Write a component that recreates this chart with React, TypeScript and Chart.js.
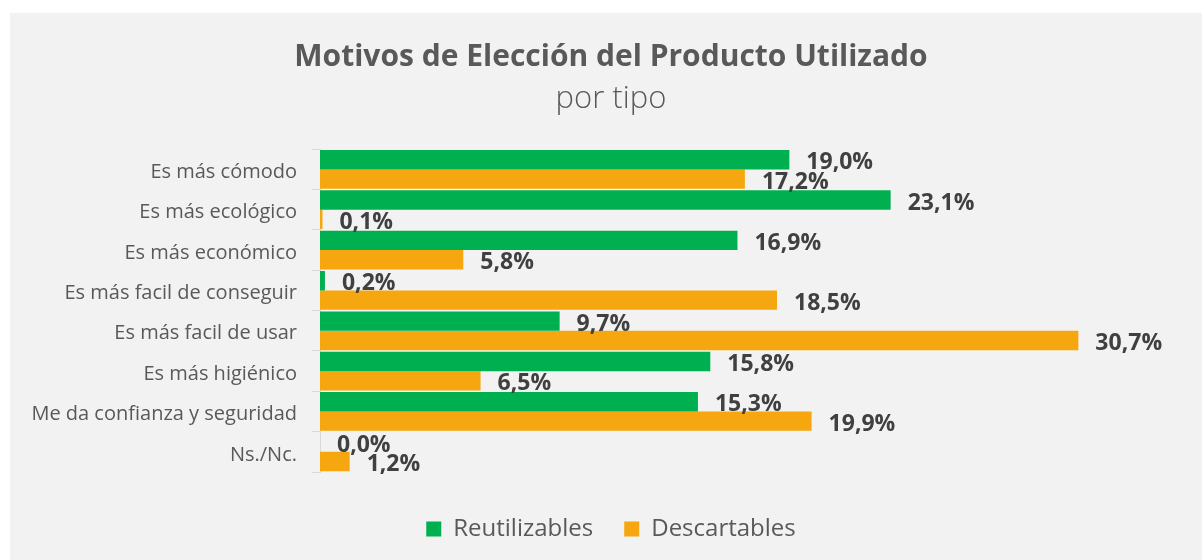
import React, { useEffect, useRef } from "react";
import { Chart, registerables } from "chart.js";

Chart.register(...registerables);

const categories = [
  "Es más cómodo",
  "Es más ecológico",
  "Es más económico",
  "Es más facil de conseguir",
  "Es más facil de usar",
  "Es más higiénico",
  "Me da confianza y seguridad",
  "Ns./Nc.",
];
const reutilizables = [19.0, 23.1, 16.9, 0.2, 9.7, 15.8, 15.3, 0.0];
const descartables = [17.2, 0.1, 5.8, 18.5, 30.7, 6.5, 19.9, 1.2];
const seriesNames = ["Reutilizables", "Descartables"];
const titleText = "Motivos de Elección del Producto Utilizado";
const subtitleText = "por tipo";

const FONT = "'Open Sans', 'DejaVu Sans', sans-serif";

const valueLabels = {
  id: "valueLabels",
  afterDatasetsDraw(chart: any) {
    const ctx = chart.ctx;
    ctx.save();
    ctx.font = `bold 23px ${FONT}`;
    ctx.fillStyle = "#404040";
    ctx.textAlign = "left";
    ctx.textBaseline = "middle";
    chart.data.datasets.forEach((ds: any, i: number) => {
      const meta = chart.getDatasetMeta(i);
      meta.data.forEach((bar: any, j: number) => {
        const v = ds.data[j] as number;
        const { x, y } = bar.getProps(["x", "y"], true);
        ctx.fillText(v.toFixed(1).replace(".", ",") + "%", x + 17, y + 3);
      });
    });
    ctx.restore();
  },
};

export default function App() {
  const ref = useRef<HTMLCanvasElement>(null);
  useEffect(() => {
    if (!ref.current) return;
    const chart = new Chart(ref.current, {
      type: "bar",
      data: {
        labels: categories,
        datasets: [
          {
            label: seriesNames[0],
            data: reutilizables,
            backgroundColor: "#00B050",
            categoryPercentage: 0.96,
            barPercentage: 1.0,
          },
          {
            label: seriesNames[1],
            data: descartables,
            backgroundColor: "#F6A60E",
            categoryPercentage: 0.96,
            barPercentage: 1.0,
          },
        ],
      },
      options: {
        indexAxis: "y",
        responsive: false,
        animation: false,
        layout: { padding: { left: 20, right: 10, top: 0, bottom: 9 } },
        scales: {
          x: {
            min: 0,
            max: 35.3,
            display: true,
            grid: { display: false },
            ticks: { display: false },
            border: { display: false },
            afterFit: (s: any) => {
              s.height = 14;
            },
          },
          y: {
            grid: {
              drawOnChartArea: false,
              drawTicks: true,
              tickLength: 8,
              color: "#D9D9D9",
              offset: true,
            },
            border: { display: true, color: "#D9D9D9", width: 1 },
            ticks: {
              padding: 15,
              labelOffset: 3,
              color: "#595959",
              font: { family: FONT, size: 20 },
            },
            afterFit: (s: any) => {
              s.width = 290;
            },
          },
        },
        plugins: {
          title: {
            display: true,
            text: titleText,
            color: "#595959",
            font: { family: FONT, size: 30, weight: "bold", lineHeight: 1.2 },
            padding: { top: 26, bottom: 0 },
          },
          subtitle: {
            display: true,
            text: subtitleText,
            color: "#595959",
            font: { family: FONT, size: 31, weight: "300", lineHeight: 1.2 },
            padding: { top: 6, bottom: 31 },
          },
          legend: {
            display: true,
            position: "bottom",
            labels: {
              boxWidth: 15,
              boxHeight: 15,
              padding: 31,
              color: "#595959",
              font: { family: FONT, size: 24 },
            },
          },
          tooltip: { enabled: false },
        },
      },
      plugins: [valueLabels],
    } as any);
    return () => chart.destroy();
  }, []);
  return (
    <div
      style={{
        position: "absolute",
        left: 10,
        top: 13,
        width: 1192,
        height: 547,
        background: "#F2F2F2",
      }}
    >
      <canvas ref={ref} width={1192} height={547} style={{ display: "block" }} />
    </div>
  );
}
